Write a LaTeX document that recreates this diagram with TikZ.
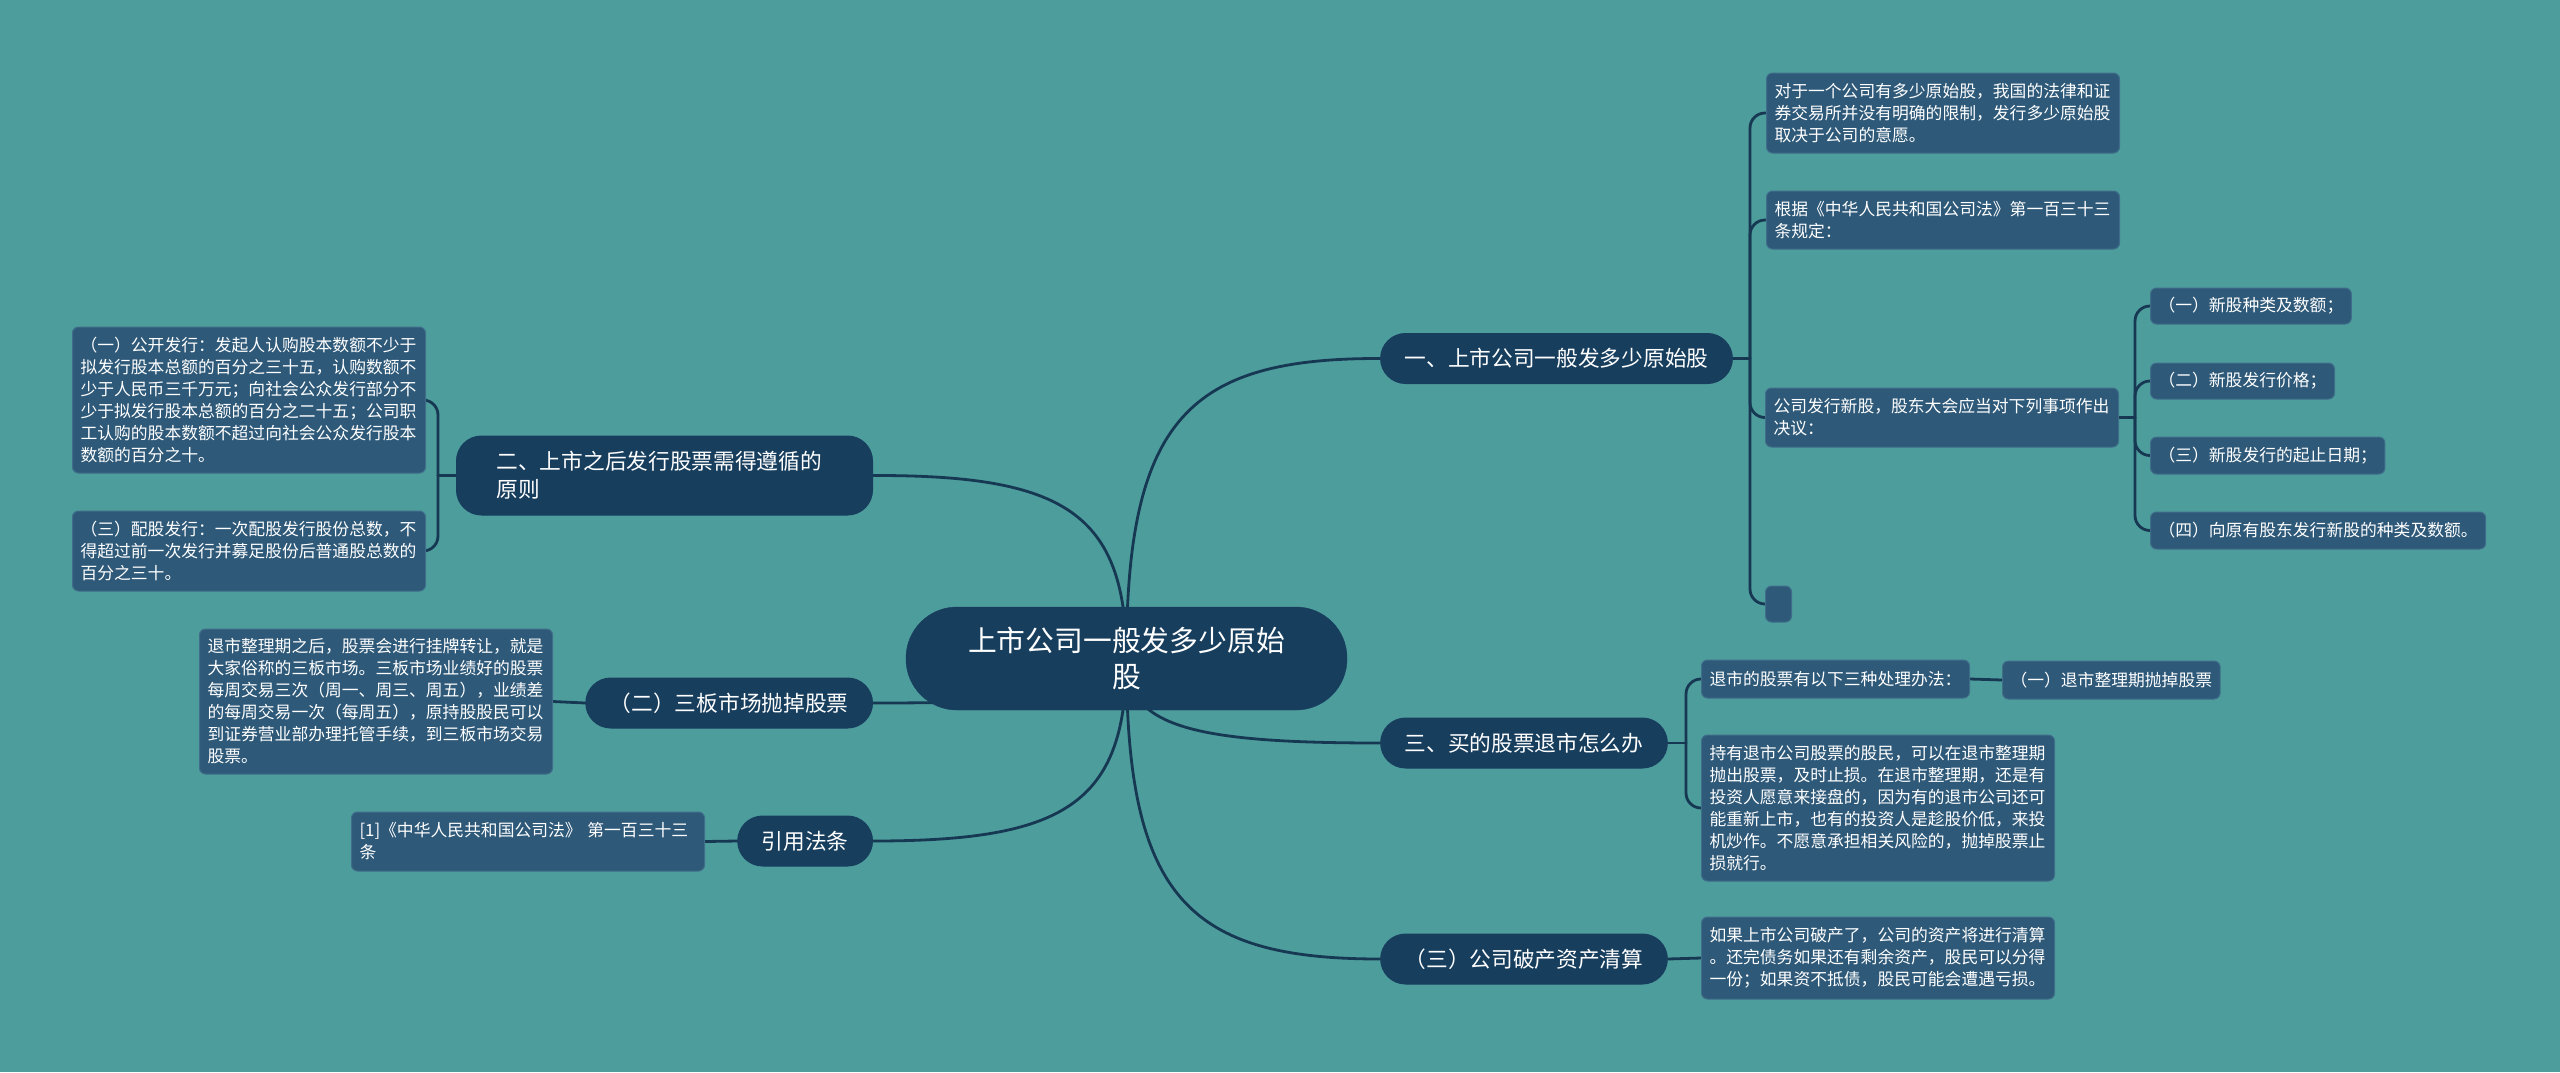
\documentclass[tikz,border=0pt]{standalone}
\usepackage{fontspec}
\setmainfont{Noto Sans CJK SC}
\definecolor{bgc}{RGB}{78,157,157}
\definecolor{mainc}{RGB}{24,62,94}
\definecolor{leafc}{RGB}{46,89,121}
\definecolor{leafb}{RGB}{64,110,138}
\definecolor{linec}{RGB}{22,56,82}
\newcommand\fleaf{\fontsize{16.8}{22}\selectfont}
\newcommand\fbranch{\fontsize{21.7}{28}\selectfont}
\newcommand\froot{\fontsize{28.8}{36}\selectfont}
\pgfdeclarelayer{back}\pgfdeclarelayer{bg}\pgfsetlayers{back,bg,main}
\begin{document}
\begin{tikzpicture}[x=1pt,y=-1pt,
  leaf/.style={fill=leafc, draw=leafb, line width=1pt, rounded corners=6pt, text=white,
    inner xsep=8pt, inner ysep=4pt, align=left, font=\fleaf},
  branch/.style={fill=mainc, draw=mainc, line width=1pt, rounded corners=25pt, text=white,
    minimum height=50pt, inner xsep=24pt, inner ysep=4pt, font=\fbranch},
  conn/.style={draw=linec, line width=2.8pt, line cap=round},
  elbow/.style={conn, rounded corners=15pt}]
\begin{pgfonlayer}{back}
\fill[bgc] (0,0) rectangle (2560,1072);
\end{pgfonlayer}
\useasboundingbox (0,0) rectangle (2560,1072);

% root
\node[fill=mainc, draw=mainc, rounded corners=51pt, text=white, minimum width=441pt,
  minimum height=103pt, align=center, font=\froot] (root) at (1126.5,658.5)
  {上市公司一般发多少原始\\股};

% branches right
\node[branch] (B1) at (1556.5,358.5) {一、上市公司一般发多少原始股};
\node[branch] (B2) at (1524,743) {三、买的股票退市怎么办};
\node[branch] (B3) at (1524,959) {（三）公司破产资产清算};
% branches left
\node[branch, text width=336pt, inner xsep=40pt, minimum height=79pt, align=left, anchor=east]
  (B4) at (873,475.5) {二、上市之后发行股票需得遵循的\\原则};
\node[branch, anchor=east] (B5) at (873,703) {（二）三板市场抛掉股票};
\node[branch, anchor=east] (B6) at (873,841) {引用法条};

% right leaves of B1
\node[leaf, anchor=west, text width=337pt, minimum height=80pt] (R1) at (1766,113)
  {对于一个公司有多少原始股，我国的法律和证\\券交易所并没有明确的限制，发行多少原始股\\取决于公司的意愿。};
\node[leaf, anchor=west, text width=337pt, minimum height=58pt] (R2) at (1766,220)
  {根据《中华人民共和国公司法》第一百三十三\\条规定：};
\node[leaf, anchor=west, text width=337pt, minimum height=59pt] (R3) at (1765,417.5)
  {公司发行新股，股东大会应当对下列事项作出\\决议：};
\node[leaf, anchor=west, minimum width=26pt, minimum height=36pt, inner sep=0pt] (RE) at (1765,604) {};

\node[leaf, anchor=west, minimum height=36pt] (S1) at (2150,306) {（一）新股种类及数额；};
\node[leaf, anchor=west, minimum height=36pt] (S2) at (2150,381) {（二）新股发行价格；};
\node[leaf, anchor=west, minimum height=37pt] (S3) at (2150,455.5) {（三）新股发行的起止日期；};
\node[leaf, anchor=west, minimum height=37pt] (S4) at (2150,530.5) {（四）向原有股东发行新股的种类及数额。};

% leaves of B2
\node[leaf, anchor=west, minimum height=38pt] (T1) at (1701,679) {退市的股票有以下三种处理办法：};
\node[leaf, anchor=west, minimum height=38pt] (T1c) at (2002,680) {（一）退市整理期抛掉股票};
\node[leaf, anchor=west, text width=337pt, minimum height=146pt] (T2) at (1701,808)
  {持有退市公司股票的股民，可以在退市整理期\\抛出股票，及时止损。在退市整理期，还是有\\投资人愿意来接盘的，因为有的退市公司还可\\能重新上市，也有的投资人是趁股价低，来投\\机炒作。不愿意承担相关风险的，抛掉股票止\\损就行。};

% leaf of B3
\node[leaf, anchor=west, text width=337pt, minimum height=82pt] (U1) at (1701,958)
  {如果上市公司破产了，公司的资产将进行清算\\。还完债务如果还有剩余资产，股民可以分得\\一份；如果资不抵债，股民可能会遭遇亏损。};

% left leaves
\node[leaf, anchor=east, text width=337pt, minimum height=146pt] (L1) at (426,400)
  {（一）公开发行：发起人认购股本数额不少于\\拟发行股本总额的百分之三十五，认购数额不\\少于人民币三千万元；向社会公众发行部分不\\少于拟发行股本总额的百分之二十五；公司职\\工认购的股本数额不超过向社会公众发行股本\\数额的百分之十。};
\node[leaf, anchor=east, text width=337pt, minimum height=80pt] (L2) at (426,551)
  {（三）配股发行：一次配股发行股份总数，不\\得超过前一次发行并募足股份后普通股总数的\\百分之三十。};
\node[leaf, anchor=east, text width=337pt, minimum height=145pt] (L3) at (553,701.5)
  {退市整理期之后，股票会进行挂牌转让，就是\\大家俗称的三板市场。三板市场业绩好的股票\\每周交易三次（周一、周三、周五），业绩差\\的每周交易一次（每周五），原持股股民可以\\到证券营业部办理托管手续，到三板市场交易\\股票。};
\node[leaf, anchor=east, text width=337pt, minimum height=59pt] (L4) at (705,841.5)
  {[1]《中华人民共和国公司法》 第一百三十三\\条};

% connectors
\coordinate (b1s) at (1750,358.5);
\coordinate (r3s) at (2135,417.5);
\coordinate (b2s) at (1686,743);
\coordinate (b4s) at (438,475.5);
\begin{pgfonlayer}{bg}
\draw[conn] (root.center) .. controls (1126,418) and (1190,358) .. (B1.west);
\draw[conn] (root.center) .. controls (1126,726) and (1190,743) .. (B2.west);
\draw[conn] (root.center) .. controls (1126,899) and (1190,959) .. (B3.west);
\draw[conn] (root.center) .. controls (1126,512) and (1063,475) .. (B4.east);
\draw[conn] (root.center) .. controls (1126,694) and (1063,703) .. (B5.east);
\draw[conn] (root.center) .. controls (1126,805) and (1063,841) .. (B6.east);

\draw[conn] (B1.east) -- (b1s);
\draw[elbow] (b1s) |- (R1.west);
\draw[elbow] (b1s) |- (R2.west);
\draw[elbow] (b1s) |- (R3.west);
\draw[elbow] (b1s) |- (RE.west);

\draw[conn] (R3.east) -- (r3s);
\draw[elbow] (r3s) |- (S1.west);
\draw[elbow] (r3s) |- (S2.west);
\draw[elbow] (r3s) |- (S3.west);
\draw[elbow] (r3s) |- (S4.west);

\draw[conn] (B2.east) -- (b2s);
\draw[elbow] (b2s) |- (T1.west);
\draw[elbow] (b2s) |- (T2.west);
\draw[conn] (T1.east) -- (T1c.west);
\draw[conn] (B3.east) -- (U1.west);

\draw[conn] (B4.west) -- (b4s);
\draw[elbow] (b4s) |- (L1.east);
\draw[elbow] (b4s) |- (L2.east);
\draw[conn] (B5.west) -- (L3.east);
\draw[conn] (B6.west) -- (L4.east);
\end{pgfonlayer}
\end{tikzpicture}
\end{document}
